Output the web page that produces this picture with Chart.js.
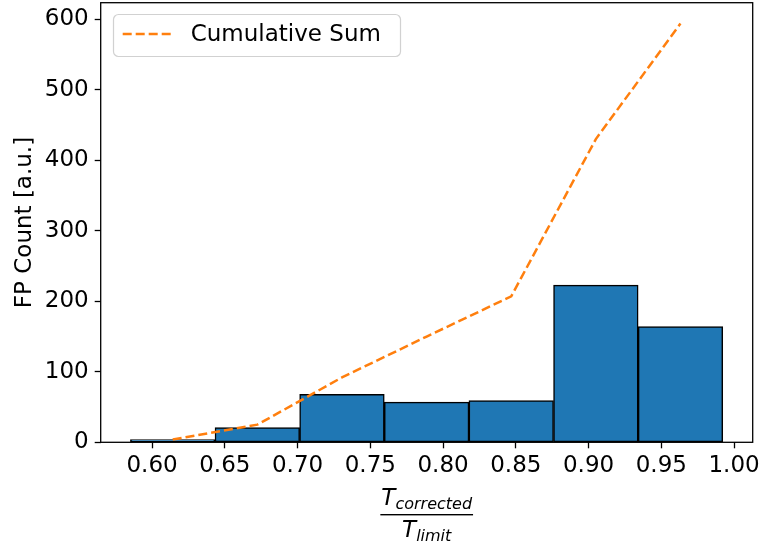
<!DOCTYPE html>
<html>
<head>
<meta charset="utf-8">
<script src="https://cdn.jsdelivr.net/npm/chart.js@4/dist/chart.umd.min.js"></script>
<style>
  html, body { margin: 0; padding: 0; background: #fff; }
  #wrap { width: 763px; height: 545px; }
</style>
</head>
<body>
<div id="wrap"><canvas id="chart" width="763" height="545"></canvas></div>
<script>
// histogram bins (edges) and counts per bin
const binEdges = [0.5851, 0.6433, 0.7014, 0.7596, 0.8178, 0.8759, 0.9341, 0.9922];
const counts = [4, 21, 68, 57, 59, 223, 164];
// cumulative sum, plotted at bin centres
const cumulative = [4, 25, 92, 150, 207, 430, 594];

const xTicks = [0.60, 0.65, 0.70, 0.75, 0.80, 0.85, 0.90, 0.95, 1.00];
const yTicks = [0, 100, 200, 300, 400, 500, 600];

const FONT = 'DejaVu Sans';
const BLUE = '#1f77b4';
const ORANGE = '#ff7f0e';

const centers = counts.map((_, i) => (binEdges[i] + binEdges[i + 1]) / 2);

function noPadding(scale) {
  scale.paddingTop = 0;
  scale.paddingBottom = 0;
  scale.paddingLeft = 0;
  scale.paddingRight = 0;
}

// axes frame + legend + math x label
const extras = {
  id: 'extras',
  afterDatasetsDraw(chart) {
    const { ctx, chartArea: a } = chart;
    ctx.save();
    ctx.strokeStyle = '#000';
    ctx.lineWidth = 1.3;
    ctx.strokeRect(a.left, a.top, a.right - a.left, a.bottom - a.top);
    ctx.restore();
  },
  afterDraw(chart) {
    const ctx = chart.ctx;
    const a = chart.chartArea;
    const line = chart.data.datasets[0];

    // legend
    ctx.save();
    ctx.beginPath();
    ctx.roundRect(113.5, 14.5, 287, 42, 5);
    ctx.fillStyle = 'rgba(255,255,255,0.8)';
    ctx.fill();
    ctx.strokeStyle = 'rgba(204,204,204,0.9)';
    ctx.lineWidth = 1.2;
    ctx.stroke();
    ctx.beginPath();
    ctx.setLineDash(line.borderDash);
    ctx.strokeStyle = line.borderColor;
    ctx.lineWidth = line.borderWidth;
    ctx.moveTo(122.7, 34);
    ctx.lineTo(170.7, 34);
    ctx.stroke();
    ctx.setLineDash([]);
    ctx.fillStyle = '#000';
    ctx.font = '23px "' + FONT + '"';
    ctx.textBaseline = 'middle';
    ctx.textAlign = 'left';
    ctx.fillText(line.label, 190.7, 35);
    ctx.restore();

    // x label: T_corrected / T_limit
    const cx = (a.left + a.right) / 2;
    const big = 'italic 23px "' + FONT + '"';
    const small = 'italic 16px "' + FONT + '"';
    function frac(base, sub, baseline) {
      ctx.font = big;
      const w1 = ctx.measureText(base).width;
      ctx.font = small;
      const w2 = ctx.measureText(sub).width;
      const x0 = cx - (w1 + w2) / 2;
      ctx.font = big;
      ctx.fillText(base, x0, baseline);
      ctx.font = small;
      ctx.fillText(sub, x0 + w1, baseline + 4);
      return w1 + w2;
    }
    ctx.save();
    ctx.fillStyle = '#000';
    ctx.textBaseline = 'alphabetic';
    ctx.textAlign = 'left';
    const wTop = frac('T', 'corrected', 505);
    frac('T', 'limit', 537);
    ctx.fillRect(cx - wTop / 2 - 1, 514, wTop + 2, 1.4);
    ctx.restore();

    // y label
    ctx.save();
    ctx.translate(25, (a.top + a.bottom) / 2);
    ctx.rotate(-Math.PI / 2);
    ctx.font = '23px "' + FONT + '"';
    ctx.fillStyle = '#000';
    ctx.textAlign = 'center';
    ctx.textBaseline = 'middle';
    ctx.fillText('FP Count [a.u.]', 0, 0);
    ctx.restore();
  }
};

new Chart(document.getElementById('chart'), {
  type: 'bar',
  data: {
    datasets: [
      {
        type: 'line',
        label: 'Cumulative Sum',
        data: centers.map((x, i) => ({ x, y: cumulative[i] })),
        borderColor: ORANGE,
        borderWidth: 2.5,
        borderDash: [9, 4],
        pointRadius: 0,
        fill: false,
        tension: 0,
        order: 0
      },
      {
        type: 'bar',
        label: 'FP Count',
        data: centers.map((x, i) => ({ x, y: counts[i] })),
        backgroundColor: BLUE,
        borderColor: '#000',
        borderWidth: 1.5,
        borderSkipped: false,
        barThickness: 'flex',
        barPercentage: 1.0,
        categoryPercentage: 1.0,
        order: 1
      }
    ]
  },
  options: {
    responsive: false,
    animation: false,
    devicePixelRatio: 1,
    layout: { padding: { left: 0, right: 10.3, top: 2.7, bottom: 0 } },
    plugins: {
      legend: { display: false },
      tooltip: { enabled: false }
    },
    scales: {
      x: {
        type: 'linear',
        offset: false,
        min: 0.5647,
        max: 1.0128,
        afterBuildTicks: (scale) => { scale.ticks = xTicks.map(v => ({ value: v })); },
        afterFit: (scale) => { scale.height = 102.7; noPadding(scale); },
        grid: { offset: false, drawOnChartArea: false, drawTicks: true, tickLength: 6, tickWidth: 1.3, tickColor: '#000' },
        border: { display: false },
        ticks: {
          color: '#000',
          font: { family: FONT, size: 23 },
          padding: 4,
          maxRotation: 0,
          autoSkip: false,
          callback: (v) => Number(v).toFixed(2)
        }
      },
      y: {
        min: 0,
        max: 623.5,
        afterBuildTicks: (scale) => { scale.ticks = yTicks.map(v => ({ value: v })); },
        afterFit: (scale) => { scale.width = 100.7; noPadding(scale); },
        grid: { offset: false, drawOnChartArea: false, drawTicks: true, tickLength: 6, tickWidth: 1.3, tickColor: '#000' },
        border: { display: false },
        ticks: {
          color: '#000',
          font: { family: FONT, size: 23 },
          padding: 6,
          autoSkip: false,
          callback: (v) => String(v)
        }
      }
    }
  },
  plugins: [extras]
});
</script>
</body>
</html>
